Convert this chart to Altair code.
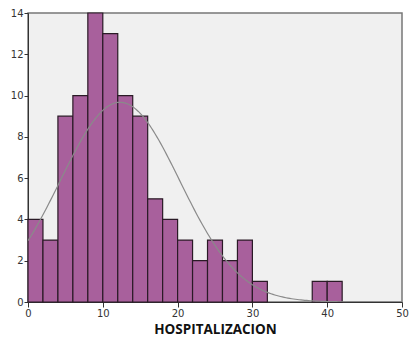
import altair as alt
import pandas as pd

# Histogram of days of hospitalization (bin width 2)
bin_starts = [0, 2, 4, 6, 8, 10, 12, 14, 16, 18, 20, 22, 24, 26, 28, 30, 38, 40]
counts = [4, 3, 9, 10, 14, 13, 10, 9, 5, 4, 3, 2, 3, 2, 3, 1, 1, 1]
bin_width = 2

# Fitted normal curve parameters
mean_days = 12.3
sd_days = 8.0
n_obs = sum(counts)

bars_df = pd.DataFrame({
    "start": bin_starts,
    "end": [s + bin_width for s in bin_starts],
    "count": counts,
})

x_scale = alt.Scale(domain=[0, 50], nice=False, zero=False)
y_scale = alt.Scale(domain=[0, 14], nice=False)

x_axis = alt.Axis(
    title="HOSPITALIZACION", values=[0, 10, 20, 30, 40, 50], grid=False,
    domainColor="#333333", tickColor="#333333", tickSize=5, labelFlush=False,
    labelFont="DejaVu Sans", labelFontSize=10, labelColor="#333333", labelPadding=1,
    titleFont="Open Sans", titleFontSize=13.5, titleFontWeight="bold", titleColor="#111111",
    titlePadding=4,
)
y_axis = alt.Axis(
    title=None, values=list(range(0, 15, 2)), grid=False, labelFlush=False,
    domainColor="#333333", tickColor="#333333", tickSize=4,
    labelFont="DejaVu Sans", labelFontSize=10, labelColor="#333333", labelPadding=1,
)

bars = alt.Chart(bars_df).mark_rect(
    fill="#A8609C", stroke="#2a1a26", strokeWidth=1.2
).encode(
    x=alt.X("start:Q", scale=x_scale, axis=x_axis),
    x2="end:Q",
    y=alt.Y("count:Q", scale=y_scale, axis=y_axis),
    y2=alt.datum(0),
)

curve = alt.Chart(alt.sequence(0, 50.1, 0.25, as_="x")).transform_calculate(
    y=f"{n_obs * bin_width} / ({sd_days} * sqrt(2 * PI)) * exp(-pow(datum.x - {mean_days}, 2) / (2 * {sd_days} * {sd_days}))"
).mark_line(color="#8a8a8a", strokeWidth=1.2, clip=True).encode(
    x=alt.X("x:Q", scale=x_scale),
    y=alt.Y("y:Q", scale=y_scale),
)

chart = alt.layer(bars, curve).properties(
    width=374, height=289,
    autosize=alt.AutoSizeParams(type="none"),
    padding={"left": 28, "top": 13, "right": 7, "bottom": 35},
    background="white",
).configure_view(
    fill="#F0F0F0", stroke="#777777", strokeWidth=1.5
)

chart.save("out.html", embed_options={"renderer": "svg", "actions": False})
